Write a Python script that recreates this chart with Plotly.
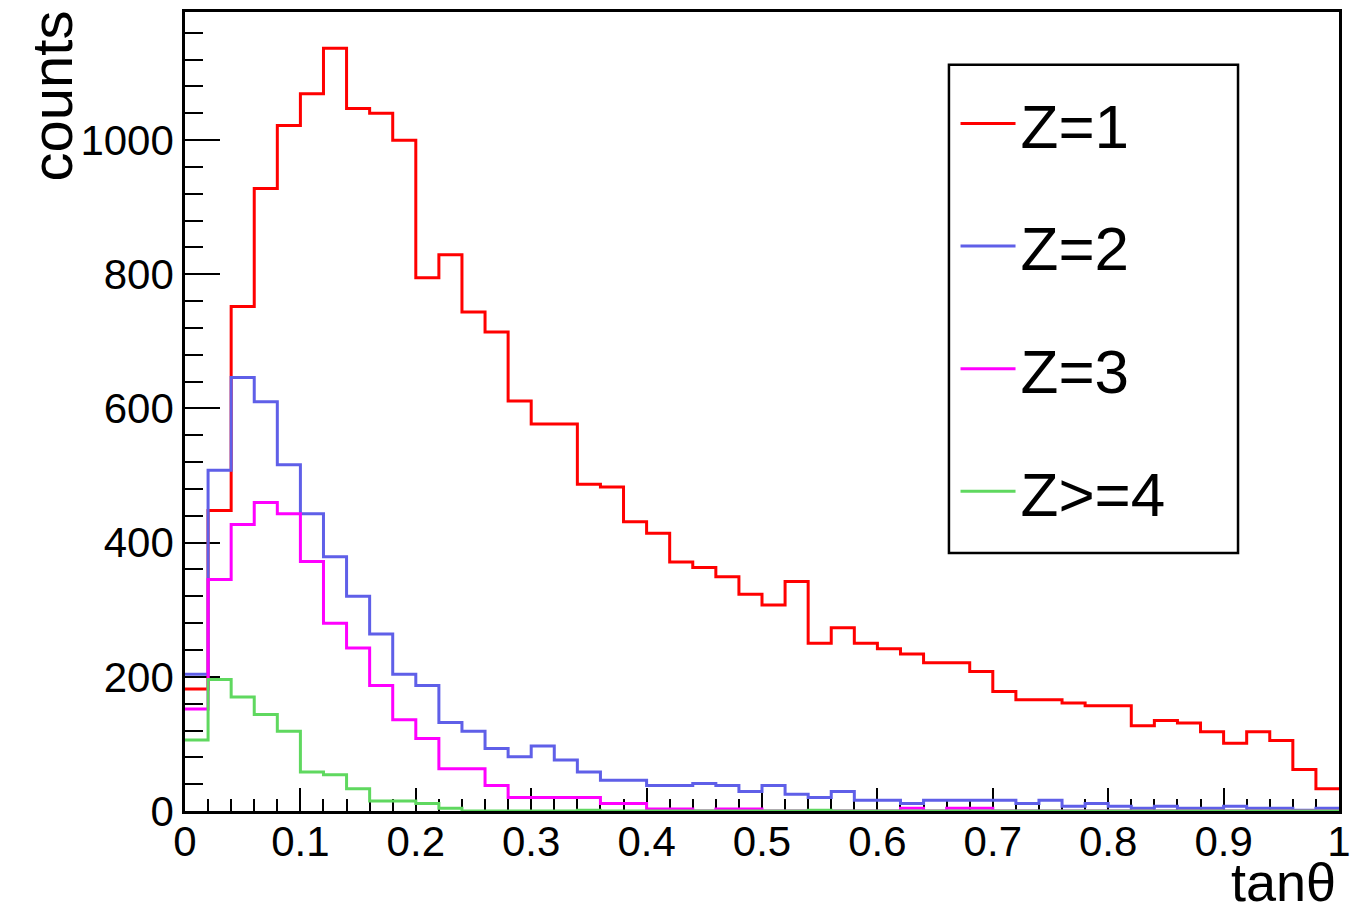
import numpy as np
import plotly.graph_objects as go

# ---- data (counts per bin, 50 bins of width 0.02 on tan(theta) in [0, 1]) ----
x_min, x_max, n_bins = 0.0, 1.0, 50

z1 = [182, 448, 752, 928, 1022, 1069, 1137, 1047, 1040, 1000,
      795, 829, 744, 714, 611, 577, 577, 487, 483, 431,
      414, 371, 363, 349, 323, 307, 342, 250, 273, 250,
      242, 234, 221, 221, 208, 178, 166, 166, 161, 157,
      157, 127, 135, 131, 118, 101, 118, 105, 62, 33]

z2 = [204, 508, 646, 610, 516, 443, 379, 320, 264, 204,
      187, 132, 119, 93, 81, 97, 76, 58, 46, 46,
      38, 38, 41, 38, 29, 38, 25, 20, 29, 16,
      16, 11, 16, 16, 16, 16, 11, 16, 7, 11,
      7, 4, 7, 4, 4, 7, 4, 4, 1, 4]

z3 = [152, 345, 427, 460, 443, 372, 280, 243, 187, 136,
      108, 63, 63, 38, 20, 20, 20, 20, 11, 11,
      3, 3, 0, 3, 3, 0, 0, 0, 0, 0,
      0, 4, 0, 4, 4, 0, 0, 0, 0, 0,
      0, 0, 0, 0, 0, 0, 0, 0, 0, 0]

z4 = [106, 196, 170, 144, 119, 58, 54, 33, 15, 15,
      11, 4, 0, 0, 0, 0, 0, 1, 0, 0,
      0, 0, 0, 0, 0, 0, 0, 1, 0, 0,
      0, 0, 0, 0, 0, 0, 0, 0, 0, 0,
      0, 0, 0, 0, 0, 0, 0, 0, 0, 0]

series_names = ["Z=1", "Z=2", "Z=3", "Z>=4"]
series_values = [z1, z2, z3, z4]
series_colors = ["#ff0000", "#5f5fe8", "#ff00ff", "#5fd85f"]

x_title = "tanθ"
y_title = "counts"

# ---- figure ----
edges = np.linspace(x_min, x_max, n_bins + 1)
FONT = "Liberation Sans, Arial, Helvetica, sans-serif"

fig = go.Figure()
for name, vals, col in zip(series_names, series_values, series_colors):
    fig.add_trace(go.Scatter(
        x=edges, y=list(vals) + [vals[-1]],
        mode="lines", name=name, legendgroup=name,
        line=dict(color=col, width=3, shape="hv"),
    ))

fig.update_layout(
    width=1351, height=907,
    margin=dict(l=177, r=20, t=1, b=104),
    paper_bgcolor="white", plot_bgcolor="white",
    font=dict(family=FONT, color="black"),
    showlegend=True,
    legend=dict(
        x=0.6677, y=0.919, xanchor="left", yanchor="top",
        bgcolor="rgba(0,0,0,0)", borderwidth=0, itemwidth=55,
        font=dict(size=62, family=FONT, color="black"),
        tracegroupgap=39, traceorder="grouped",
    ),
    xaxis=dict(
        range=[x_min, x_max], tickmode="linear", tick0=0, dtick=0.1,
        ticks="inside", ticklen=23, tickwidth=2, tickcolor="black",
        showline=True, linewidth=2.5, linecolor="black", mirror=True,
        showgrid=False, zeroline=False, layer="below traces",
        ticklabelstandoff=-8,
        tickfont=dict(size=42, family=FONT, color="black"),
        minor=dict(dtick=0.02, ticks="inside", ticklen=12, tickwidth=2,
                   tickcolor="black", showgrid=False),
    ),
    yaxis=dict(
        range=[0, 1191], tickmode="linear", tick0=0, dtick=200,
        ticks="inside", ticklen=35, tickwidth=2, tickcolor="black",
        showline=True, linewidth=2.5, linecolor="black", mirror=True,
        showgrid=False, zeroline=False, layer="below traces",
        tickfont=dict(size=42, family=FONT, color="black"),
        minor=dict(dtick=40, ticks="inside", ticklen=18, tickwidth=2,
                   tickcolor="black", showgrid=False),
    ),
    shapes=[dict(
        type="rect", xref="paper", yref="paper",
        x0=0.662, x1=0.9125, y0=0.3229, y1=0.9339,
        line=dict(color="black", width=2.5), fillcolor="rgba(0,0,0,0)",
    )],
    annotations=[
        dict(text=y_title, xref="paper", yref="paper", x=-0.1153, y=1.005,
             xanchor="center", yanchor="top", textangle=-90, showarrow=False,
             font=dict(size=58, family=FONT, color="black")),
        dict(text=x_title, xref="paper", yref="paper", x=0.999, y=-0.1284,
             xanchor="right", yanchor="bottom", showarrow=False,
             font=dict(size=54, family=FONT, color="black")),
    ],
)

fig.write_html("out.html")
